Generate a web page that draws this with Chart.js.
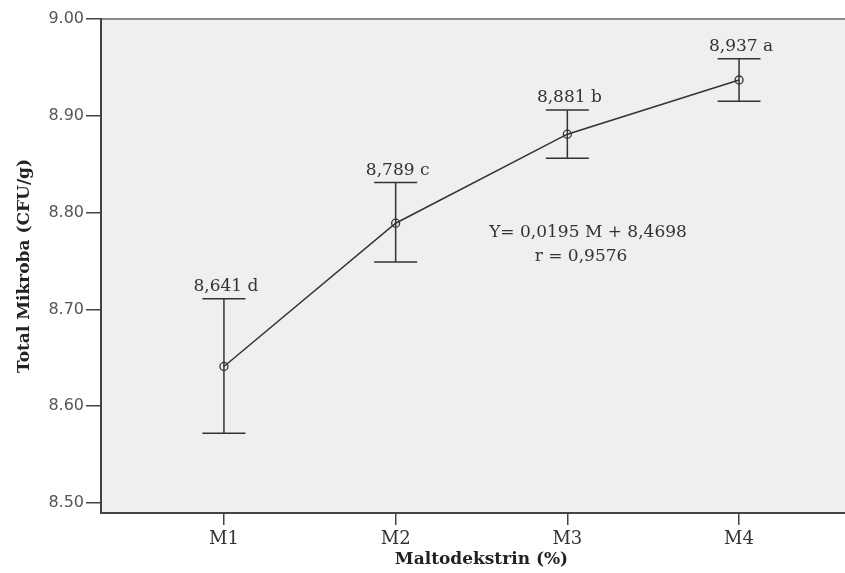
<!DOCTYPE html>
<html>
<head>
<meta charset="utf-8">
<script src="https://cdn.jsdelivr.net/npm/chart.js@4"></script>
<style>
  html, body { margin: 0; padding: 0; background: #fff; overflow: hidden; }
  #wrap { width: 870px; height: 573px; }
</style>
</head>
<body>
<div id="wrap"><canvas id="chart" width="870" height="573"></canvas></div>
<script>
// data
const categories = ['M1', 'M2', 'M3', 'M4'];
const means = [8.641, 8.789, 8.881, 8.937];
const upper = [8.711, 8.831, 8.906, 8.959];
const lower = [8.572, 8.749, 8.856, 8.915];
const letters = ['8,641 d', '8,789 c', '8,881 b', '8,937 a'];
const yTicks = [8.50, 8.60, 8.70, 8.80, 8.90, 9.00];
const equationLines = ['Y= 0,0195 M + 8,4698', 'r = 0,9576'];

const serif = "'DejaVu Serif', serif";
const dark = '#333';

// plot background + grey top frame
const frame = {
  id: 'frame',
  beforeDraw(chart) {
    const { ctx, chartArea: a } = chart;
    ctx.save();
    ctx.fillStyle = '#efefef';
    ctx.fillRect(a.left, a.top, a.right - a.left, a.bottom - a.top);
    ctx.strokeStyle = '#8a8a8a';
    ctx.lineWidth = 2;
    ctx.beginPath();
    ctx.moveTo(a.left, a.top);
    ctx.lineTo(a.right, a.top);
    ctx.stroke();
    ctx.restore();
  }
};

// error bars, value labels and regression note
const errorBars = {
  id: 'errorBars',
  beforeDatasetsDraw(chart) {
    const { ctx, scales: { x, y } } = chart;
    ctx.save();
    ctx.strokeStyle = dark;
    ctx.lineWidth = 1.5;
    means.forEach((m, i) => {
      const px = x.getPixelForValue(i + 1);
      const yt = y.getPixelForValue(upper[i]);
      const yb = y.getPixelForValue(lower[i]);
      ctx.beginPath();
      ctx.moveTo(px, yt); ctx.lineTo(px, yb);
      ctx.moveTo(px - 21.5, yt); ctx.lineTo(px + 21.5, yt);
      ctx.moveTo(px - 21.5, yb); ctx.lineTo(px + 21.5, yb);
      ctx.stroke();
    });
    ctx.restore();
  },
  afterDatasetsDraw(chart) {
    const { ctx, chartArea: a, scales: { x, y } } = chart;
    ctx.save();
    ctx.fillStyle = dark;
    ctx.font = '17px ' + serif;
    ctx.textAlign = 'center';
    ctx.textBaseline = 'alphabetic';
    letters.forEach((t, i) => {
      const px = x.getPixelForValue(i + 1);
      const yt = y.getPixelForValue(upper[i]);
      ctx.fillText(t, px + 2, yt - 8);
    });
    ctx.textBaseline = 'middle';
    ctx.fillText(equationLines[0], a.left + 487, a.top + 214);
    ctx.fillText(equationLines[1], a.left + 480, a.top + 238);
    ctx.restore();
  }
};

new Chart(document.getElementById('chart'), {
  type: 'line',
  data: {
    datasets: [{
      data: means.map((m, i) => ({ x: i + 1, y: m })),
      borderColor: dark,
      borderWidth: 1.5,
      tension: 0,
      pointRadius: 4,
      pointBorderWidth: 1.3,
      pointBorderColor: dark,
      pointBackgroundColor: 'rgba(0,0,0,0)'
    }]
  },
  options: {
    responsive: false,
    animation: false,
    devicePixelRatio: 1,
    layout: { padding: { top: 19, right: 8, left: 0, bottom: 0 } },
    plugins: { legend: { display: false }, tooltip: { enabled: false } },
    scales: {
      x: {
        type: 'linear',
        min: 0.284,
        max: 4.716,
        afterBuildTicks: s => { s.ticks = categories.map((c, i) => ({ value: i + 1 })); },
        afterFit: s => { s.height = 60; },
        ticks: {
          callback: v => categories[v - 1],
          autoSkip: false, maxRotation: 0,
          color: dark, padding: 4,
          font: { family: serif, size: 18 }
        },
        grid: { drawOnChartArea: false, drawTicks: true, tickLength: 12, color: '#444', lineWidth: 1.5 },
        border: { display: true, color: '#444', width: 2 },
        title: {
          display: true, text: 'Maltodekstrin (%)', color: '#222',
          font: { family: serif, size: 17, weight: 'bold' },
          padding: { top: 0, bottom: 3 }
        }
      },
      y: {
        min: 8.4896,
        max: 9.0,
        afterBuildTicks: s => { s.ticks = yTicks.map(v => ({ value: v })); },
        afterFit: s => { s.width = 101; },
        ticks: {
          callback: v => Number(v).toFixed(2),
          color: '#555', padding: 2,
          font: { family: "'DejaVu Sans', sans-serif", size: 16 }
        },
        grid: { drawOnChartArea: false, drawTicks: true, tickLength: 15, color: '#444', lineWidth: 1.5 },
        border: { display: true, color: '#444', width: 2 },
        title: {
          display: true, text: 'Total Mikroba (CFU/g)', color: '#222',
          font: { family: serif, size: 17, weight: 'bold' },
          padding: { top: 14, bottom: 0 }
        }
      }
    }
  },
  plugins: [frame, errorBars]
});
</script>
</body>
</html>
